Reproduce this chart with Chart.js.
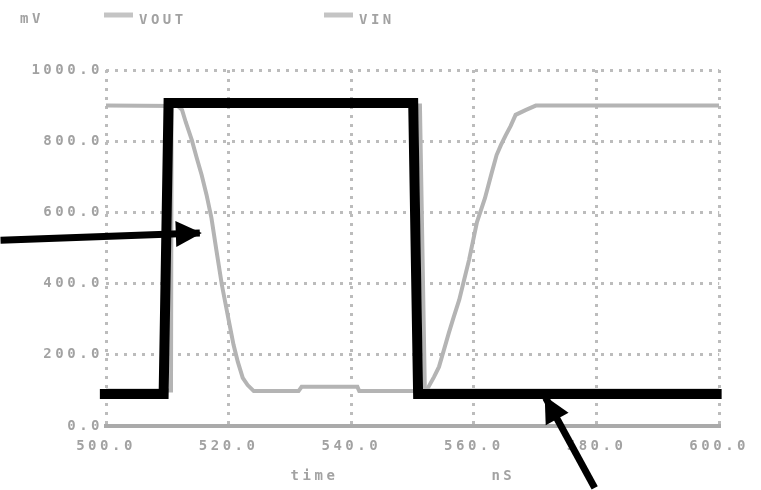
<!DOCTYPE html>
<html>
<head>
<meta charset="utf-8">
<script src="https://cdn.jsdelivr.net/npm/chart.js@4/dist/chart.umd.min.js"></script>
<style>
  html, body { margin: 0; padding: 0; background: #fff; }
  #wrap { width: 761px; height: 490px; }
</style>
</head>
<body>
<div id="wrap"><canvas id="chart"></canvas></div>
<script>
/* transient plot: VOUT / VIN, with hand-drawn pulse and arrows */

// ---------- Data -------------------------------------------------------
const xTicks = [500, 520, 540, 560, 580, 600];          // ns
const yTicks = [0, 200, 400, 600, 800, 1000];           // mV

const voutT  = [500, 511.7, 512.4, 513.0, 514.0, 514.8, 515.6, 516.4, 517.2, 518.0, 518.9, 520.0, 520.8, 521.5, 522.3, 523.1, 524.1,
                531.4, 531.9, 541.0, 541.3, 551.7, 552.5, 553.5, 554.3, 555.1, 555.9, 556.7, 557.6, 558.4, 559.2,
                560.5, 561.8, 562.9, 563.7, 564.4, 565.2, 566.0, 566.8, 568.5, 570.1, 600];
const voutMv = [900, 899, 888, 854, 803, 753, 705, 649, 584, 494, 396, 298, 228, 180, 135, 115, 98,
                98, 110, 110, 98, 98, 107, 138, 166, 213, 261, 306, 354, 410, 466,
                573, 640, 711, 761, 789, 817, 843, 874, 888, 900, 900];

const vinT   = [500, 510.6, 510.7, 551.2, 552.0, 600];
const vinMv  = [100, 100, 900, 900, 100, 100];

// hand-drawn black pulse over the input
const penT   = [499, 509.4, 510.2, 550.1, 550.9, 600.4];
const penMv  = [90, 90, 907, 907, 90, 90];

// arrows: [start, tip]
const arrowAT  = [482.8, 515.3];
const arrowAMv = [522, 542];
const arrowBT  = [579.7, 571.7];
const arrowBMv = [-174, 79];

const seriesNames = ["VOUT", "VIN"];

// ---------- Style ------------------------------------------------------
const GRAY_LINE = "#b4b4b4";
const GRID = "#bcbcbc";
const TEXT = "#a2a2a2";
const FONT = "'DejaVu Sans Mono', monospace";
const LETTER_SP = "3.5px";
const DOTS = [3, 6];

const pts = (xs, ys) => xs.map((x, i) => ({ x, y: ys[i] }));

const blackLine = (data, w) => ({
  data, borderColor: "#000", borderWidth: w, pointRadius: 0, tension: 0,
  clip: false, borderJoinStyle: "miter", borderCapStyle: "butt", fill: false,
});

// ---------- Plugins ----------------------------------------------------
const spacing = {
  id: "spacing",
  beforeLayout(chart) { chart.ctx.letterSpacing = LETTER_SP; },
  beforeDraw(chart) { chart.ctx.letterSpacing = LETTER_SP; },
};

const extras = {
  id: "extras",
  afterDatasetsDraw(chart) {
    const { ctx, scales: { x, y } } = chart;
    ctx.save();
    ctx.fillStyle = "#000";
    [[arrowAT, arrowAMv], [arrowBT, arrowBMv]].forEach(([ts, vs]) => {
      const x0 = x.getPixelForValue(ts[0]), y0 = y.getPixelForValue(vs[0]);
      const x1 = x.getPixelForValue(ts[1]), y1 = y.getPixelForValue(vs[1]);
      const len = Math.hypot(x1 - x0, y1 - y0);
      const dx = (x1 - x0) / len, dy = (y1 - y0) / len;
      const bx = x1 - dx * 24, by = y1 - dy * 24;
      ctx.beginPath();
      ctx.moveTo(x1 + dx * 2, y1 + dy * 2);
      ctx.lineTo(bx - dy * 13, by + dx * 13);
      ctx.lineTo(bx + dy * 13, by - dx * 13);
      ctx.closePath();
      ctx.fill();
    });
    ctx.restore();
  },
  afterDraw(chart) {
    const { ctx, scales: { x } } = chart;
    ctx.save();
    ctx.letterSpacing = LETTER_SP;
    ctx.font = "bold 14px " + FONT;
    ctx.fillStyle = TEXT;
    ctx.textBaseline = "middle";
    ctx.textAlign = "left";
    ctx.fillText("mV", 20, 19);

    // legend
    ctx.strokeStyle = "#c4c4c4";
    ctx.lineWidth = 5;
    [[104, seriesNames[0]], [324, seriesNames[1]]].forEach(([lx, name]) => {
      ctx.beginPath();
      ctx.moveTo(lx, 15);
      ctx.lineTo(lx + 29, 15);
      ctx.stroke();
      ctx.fillText(name, lx + 35, 20);
    });

    // axis captions
    ctx.textAlign = "center";
    ctx.fillText("time", x.getPixelForValue(534), 476);
    ctx.fillText("nS", x.getPixelForValue(564.8), 476);
    ctx.restore();
  },
};

// ---------- Chart ------------------------------------------------------
new Chart(document.getElementById("chart"), {
  type: "line",
  data: {
    datasets: [
      blackLine(pts(arrowAT, arrowAMv), 7),
      blackLine(pts(arrowBT, arrowBMv), 7),
      blackLine(pts(penT, penMv), 10),
      { label: seriesNames[0], data: pts(voutT, voutMv), borderColor: GRAY_LINE, borderWidth: 4, pointRadius: 0, tension: 0 },
      { label: seriesNames[1], data: pts(vinT, vinMv), borderColor: GRAY_LINE, borderWidth: 4, pointRadius: 0, tension: 0 },
    ],
  },
  options: {
    responsive: true,
    maintainAspectRatio: false,
    animation: false,
    layout: { padding: { top: 70, right: 35, left: 0, bottom: 0 } },
    plugins: { legend: { display: false }, tooltip: { enabled: false } },
    scales: {
      x: {
        type: "linear",
        min: 500, max: 600,
        afterFit: s => { s.height = 64; },
        afterBuildTicks: s => { s.ticks = xTicks.map(v => ({ value: v })); },
        ticks: { color: TEXT, font: { family: FONT, size: 14, weight: "bold" }, padding: 12, maxRotation: 0,
                 callback: v => Number(v).toFixed(1) },
        grid: { color: GRID, lineWidth: 3, drawTicks: false },
        border: { display: true, color: "#aaaaaa", width: 4, dash: DOTS },
      },
      y: {
        min: 0, max: 1000,
        afterFit: s => { s.width = 106; },
        afterBuildTicks: s => { s.ticks = yTicks.map(v => ({ value: v })); },
        ticks: { color: TEXT, font: { family: FONT, size: 14, weight: "bold" }, padding: 3,
                 callback: v => Number(v).toFixed(1) },
        grid: { color: c => (c.tick && c.tick.value === 0 ? "rgba(0,0,0,0)" : GRID), lineWidth: 3, drawTicks: false },
        border: { display: false, dash: DOTS },
      },
    },
  },
  plugins: [spacing, extras],
});
</script>
</body>
</html>
